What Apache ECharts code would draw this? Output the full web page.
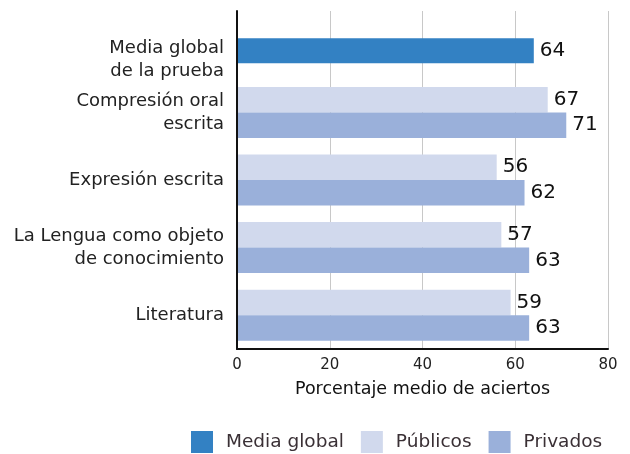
<!DOCTYPE html>
<html><head><meta charset="utf-8">
<script src="https://cdn.jsdelivr.net/npm/echarts@6/dist/echarts.min.js"></script>
<style>html,body{margin:0;padding:0;background:#fff}#c{width:630px;height:454px}</style>
</head><body><div id="c"></div>
<script>
var categories = ['Media global\nde la prueba', 'Compresión oral\nescrita', 'Expresión escrita', 'La Lengua como objeto\nde conocimiento', 'Literatura'];
var mediaGlobal = [64, null, null, null, null];
var publicos = [null, 67, 56, 57, 59];
var privados = [null, 71, 62, 63, 63];
var xTicks = [0, 20, 40, 60, 80];

var FONT = 'DejaVu Sans';
var chart = echarts.init(document.getElementById('c'));
var valLabel = {show: true, position: 'right', distance: 6, fontSize: 20, color: '#111', fontFamily: FONT};
chart.setOption({
  animation: false,
  textStyle: {fontFamily: FONT},
  grid: [
    {left: 237, right: 22, top: 11, bottom: 105},
    {left: 237, right: 22, top: 17, bottom: 99}
  ],
  legend: {
    left: 191, top: 431, itemWidth: 22, itemHeight: 22, itemGap: 17, padding: 0,
    icon: 'rect',
    data: ['Media global', 'Públicos', 'Privados'],
    textStyle: {fontSize: 18.5, color: '#3a3035', fontFamily: FONT, padding: [0, 0, 0, 8]}
  },
  xAxis: [
    {gridIndex: 0, type: 'value', min: xTicks[0], max: xTicks[xTicks.length - 1], interval: 20,
     axisLine: {show: true, lineStyle: {color: '#111', width: 2}}, axisTick: {show: false},
     axisLabel: {fontSize: 15, color: '#222', margin: 9},
     splitLine: {show: true, lineStyle: {color: '#c8c8c8', width: 1}},
     name: 'Porcentaje medio de aciertos', nameLocation: 'middle', nameGap: 31,
     nameTextStyle: {fontSize: 17.5, color: '#111'}},
    {gridIndex: 1, type: 'value', min: 0, max: 80, show: false}
  ],
  yAxis: [
    {gridIndex: 0, type: 'category', data: categories, inverse: true,
     axisLine: {show: false}, axisTick: {show: false},
     axisLabel: {fontSize: 18, color: '#222', margin: 13, lineHeight: 23, align: 'right',
       formatter: function (v, i) { return i === 0 ? '{sp| }\n' + v : v; },
       rich: {sp: {lineHeight: 31, fontSize: 4}}}},
    {gridIndex: 1, type: 'category', data: categories, inverse: true, show: false},
    {gridIndex: 0, type: 'category', data: categories, inverse: true, position: 'left', z: 5,
     axisLine: {show: true, lineStyle: {color: '#111', width: 2}}, axisTick: {show: false},
     axisLabel: {show: false}, splitLine: {show: false}}
  ],
  series: [
    {name: 'Media global', type: 'bar', xAxisIndex: 1, yAxisIndex: 1, data: mediaGlobal, barWidth: 25,
     itemStyle: {color: '#3381c3'}, label: valLabel},
    {name: 'Públicos', type: 'bar', xAxisIndex: 0, yAxisIndex: 0, data: publicos, barWidth: 25.5, barGap: '0%',
     itemStyle: {color: '#d1d9ed'}, label: valLabel},
    {name: 'Privados', type: 'bar', xAxisIndex: 0, yAxisIndex: 0, data: privados, barWidth: 25.5, barGap: '0%',
     itemStyle: {color: '#9ab0da'}, label: valLabel}
  ]
});
</script></body></html>
